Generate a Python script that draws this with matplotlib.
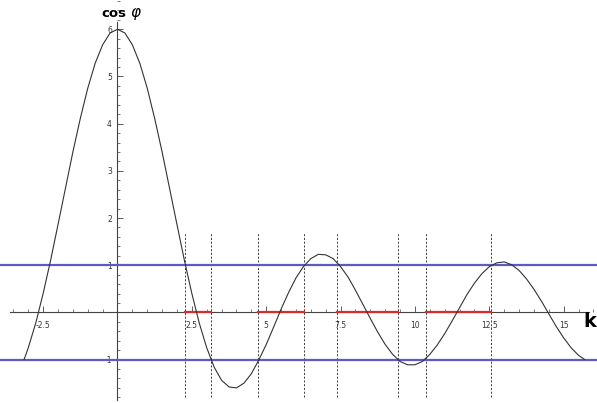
import matplotlib.pyplot as plt
from matplotlib.ticker import MultipleLocator, FixedLocator

# values (k, cos phi)
k_vals = [-3.14, -3.0, -2.75, -2.5, -2.25, -2.0, -1.75, -1.5, -1.25, -1.0,
          -0.75, -0.5, -0.25, 0.0, 0.25, 0.5, 0.75, 1.0, 1.25, 1.5, 1.75,
          2.0, 2.25, 2.5, 2.75, 3.0, 3.25, 3.5, 3.75, 4.0, 4.25, 4.5, 4.75,
          5.0, 5.25, 5.5, 5.75, 6.0, 6.25, 6.5, 6.75, 7.0, 7.25, 7.5, 7.75,
          8.0, 8.25, 8.5, 8.75, 9.0, 9.25, 9.5, 9.75, 10.0, 10.25, 10.5,
          10.75, 11.0, 11.25, 11.5, 11.75, 12.0, 12.25, 12.5, 12.75, 13.0,
          13.25, 13.5, 13.75, 14.0, 14.25, 14.5, 14.75, 15.0, 15.25, 15.5,
          15.71]
cos_phi = [-1.00, -0.75, -0.23, 0.40, 1.10, 1.86, 2.63, 3.40, 4.11, 4.75,
           5.28, 5.67, 5.92, 6.00, 5.92, 5.67, 5.28, 4.75, 4.11, 3.40, 2.63,
           1.86, 1.10, 0.40, -0.23, -0.75, -1.16, -1.44, -1.58, -1.60, -1.50,
           -1.30, -1.01, -0.68, -0.31, 0.07, 0.42, 0.73, 0.97, 1.14, 1.23,
           1.22, 1.14, 0.97, 0.75, 0.47, 0.17, -0.13, -0.42, -0.68, -0.89,
           -1.04, -1.11, -1.11, -1.04, -0.89, -0.69, -0.45, -0.18, 0.10,
           0.38, 0.62, 0.82, 0.97, 1.05, 1.07, 1.01, 0.89, 0.71, 0.49, 0.24,
           -0.03, -0.30, -0.54, -0.75, -0.91, -1.00]

# allowed bands on the k axis
band_start = [2.27, 4.73, 7.38, 10.38]
band_end = [3.14, 6.28, 9.42, 12.57]

x_ticks = [-2.5, 2.5, 5, 7.5, 10, 12.5, 15]
x_labels = ["-2.5", "2.5", "5", "7.5", "10", "12.5", "15"]
y_ticks = [-1, 1, 2, 3, 4, 5, 6]
y_labels = ["-1", "1", "2", "3", "4", "5", "6"]

fig = plt.figure(figsize=(5.97, 4.03), dpi=100)
ax = fig.add_axes([0, 0, 1, 1])
ax.set_xlim(-3.95, 16.12)
ax.set_ylim(-1.92, 6.62)

for side in ["top", "right"]:
    ax.spines[side].set_visible(False)
ax.spines["left"].set_position(("data", 0))
ax.spines["bottom"].set_position(("data", 0))
ax.spines["left"].set_bounds(-1.86, 6.15)
ax.spines["bottom"].set_bounds(-3.62, 15.85)
for side in ["left", "bottom"]:
    ax.spines[side].set_color("#444444")
    ax.spines[side].set_linewidth(0.8)

ax.xaxis.set_major_locator(FixedLocator(x_ticks))
ax.set_xticklabels(x_labels)
ax.xaxis.set_minor_locator(MultipleLocator(0.5))
ax.yaxis.set_major_locator(FixedLocator(y_ticks))
ax.set_yticklabels(y_labels)
ax.yaxis.set_minor_locator(MultipleLocator(0.2))
ax.tick_params(which="both", direction="in", colors="#444444",
               labelcolor="#333333", labelsize=5.5)
ax.tick_params(which="major", length=4, width=0.6)
ax.tick_params(which="minor", length=2, width=0.5)
ax.tick_params(axis="x", pad=6)
ax.tick_params(axis="y", pad=4)

# band edges
edges = band_start + band_end
ax.vlines(edges, -1.79, 1.68, colors="#222222", linestyles=(0, (2.5, 2)),
          linewidth=0.6, zorder=3)

# allowed bands in red
for a, b in zip(band_start, band_end):
    ax.plot([a, b], [0, 0], color="#dd2a2a", linewidth=1.6, zorder=4)

# |cos phi| = 1 limits
ax.axhline(1, color="#5b5bc4", linewidth=1.6, zorder=5)
ax.axhline(-1, color="#5b5bc4", linewidth=1.6, zorder=5)

ax.plot(k_vals, cos_phi, color="#333333", linewidth=0.8, zorder=6)

ax.text(-0.12, 6.26, "cos", fontsize=9.5, fontweight="bold", ha="center",
        va="baseline")
ax.text(0.42, 6.26, r"$\varphi$", fontsize=11, ha="left", va="baseline")
ax.text(16.08, -0.31, "k", fontsize=14, fontweight="bold", ha="right",
        va="baseline")

fig.savefig("out.png", dpi=100)
